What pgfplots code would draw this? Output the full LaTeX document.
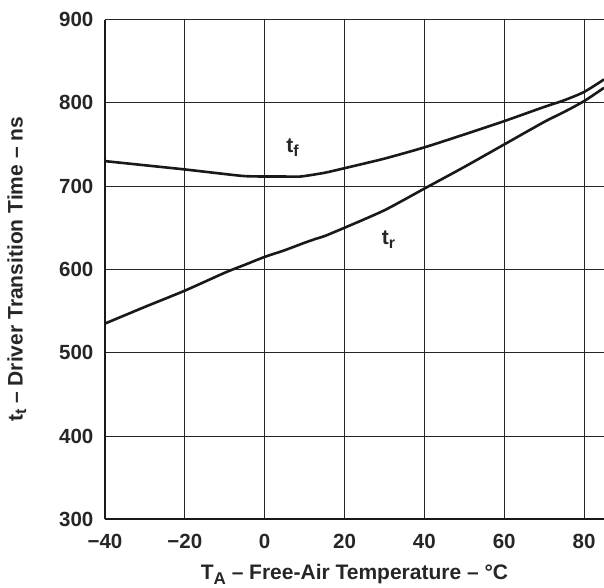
\documentclass[border=0pt]{standalone}
\usepackage{pgfplots}
\pgfplotsset{compat=1.18}
\usepackage{fontspec}
\setmainfont{Liberation Sans}
\begin{document}
\begin{tikzpicture}
\path[use as bounding box] (-105pt,-67.7pt) rectangle (499pt,519.3pt);
\begin{axis}[
  at={(0,0)}, anchor=south west,
  scale only axis, width=499pt, height=499.8pt,
  xmin=-40, xmax=85, ymin=300, ymax=900,
  xtick={-40,-20,0,20,40,60,80},
  xticklabels={−40,−20,0,20,40,60,80},
  ytick={300,400,500,600,700,800,900},
  yticklabels={300,400,500,600,700,800,900},
  grid=major, major grid style={line width=1pt, black!85},
  axis lines=left, axis line style={-, line width=1.8pt, black!90},
  tick style={draw=none},
  ticklabel style={font=\fontsize{20.5}{20.5}\selectfont\bfseries, text=black!85},
  xticklabel style={yshift=-9pt},
  yticklabel style={xshift=-6pt},
  xlabel={T\raisebox{-4.5pt}{\fontsize{17}{17}\selectfont A} – Free-Air Temperature – °C},
  ylabel={t\raisebox{-3.5pt}{\fontsize{16}{16}\selectfont t} – Driver Transition Time – ns},
  label style={font=\fontsize{21}{21}\selectfont\bfseries, text=black!85},
  xlabel style={yshift=-9pt},
  ylabel style={yshift=26pt},
  clip=true,
]
\addplot[line width=2.6pt, black!90, smooth, tension=0.4] coordinates {
(-40,730) (-30,725) (-20,720) (-10,714.5) (-5,712) (0,711.5) (5,711.5) (9,711.5) (15,716) (20,721.5) (30,733) (40,746.5) (50,762) (60,778) (70,795) (75,803) (80,813) (85,828)
};
\addplot[line width=2.6pt, black!90, smooth, tension=0.4] coordinates {
(-40,535) (-30,555) (-20,574.5) (-10,596) (-5,605.5) (0,615) (5,623) (10,632) (13,637) (15,640) (20,650) (30,671) (40,697) (50,723) (60,750) (70,777) (75,789) (80,802) (85,818)
};
\node[font=\fontsize{21}{21}\selectfont\bfseries, text=black!85] at (axis cs:7,746) {t\raisebox{-3.5pt}{\fontsize{16}{16}\selectfont f}};
\node[font=\fontsize{21}{21}\selectfont\bfseries, text=black!85] at (axis cs:31,636) {t\raisebox{-3.5pt}{\fontsize{16}{16}\selectfont r}};
\end{axis}
\end{tikzpicture}
\end{document}
